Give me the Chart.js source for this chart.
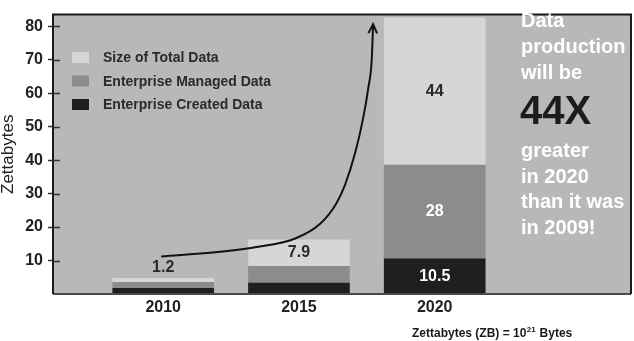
<!DOCTYPE html>
<html>
<head>
<meta charset="utf-8">
<script src="https://cdn.jsdelivr.net/npm/chart.js@4"></script>
<style>
  html, body { margin: 0; padding: 0; background: #fff; }
  canvas { display: block; }
</style>
</head>
<body>
<canvas id="zbChart" width="634" height="341"></canvas>
<script>
/* ===============================
   DATA
=============================== */
const years = [2010, 2015, 2020];
const createdData = [1.7, 3.3, 10.5];   // Enterprise Created Data
const managedData = [1.8, 5.0, 28];     // Enterprise Managed Data
const totalData = [1.2, 7.9, 44];       // Size of Total Data
const yTicks = [10, 20, 30, 40, 50, 60, 70, 80];

// growth arrow, in (year, ZB)
const arrowPath = [
    { x: 2009.93, y: 11.2 }, { x: 2012.1, y: 12.6 }, { x: 2013.5, y: 14.1 },
    { x: 2014.86, y: 16.6 }, { x: 2015.78, y: 21.0 }, { x: 2016.37, y: 27.0 },
    { x: 2016.7, y: 32.7 }, { x: 2017.07, y: 42.2 }, { x: 2017.37, y: 52.8 },
    { x: 2017.55, y: 61.4 }, { x: 2017.68, y: 70.0 }, { x: 2017.73, y: 80.6 }
];

const noteTop = ["Data", "production", "will be"];
const noteBig = "44X";
const noteBottom = ["greater", "in 2020", "than it was", "in 2009!"];

const FONT = "'Liberation Sans', Arial, Helvetica, sans-serif";
const COLORS = { bg: "#b7b8ba", light: "#d5d6d8", mid: "#8b8c8e", dark: "#1f1f1f", text: "#2a2a2a" };

const toPoints = arr => years.map((x, i) => ({ x, y: arr[i] }));

/* ===============================
   PLUGIN: frame, labels, legend, notes
=============================== */
const decorPlugin = {
    id: "decor",
    beforeDraw(chart) {
        const { ctx, chartArea: a } = chart;
        ctx.save();
        ctx.fillStyle = COLORS.bg;
        ctx.fillRect(a.left, a.top, a.right - a.left, a.bottom - a.top);
        ctx.restore();
    },
    afterDatasetsDraw(chart) {
        const { ctx, chartArea: a, scales } = chart;
        ctx.save();

        // frame
        ctx.lineWidth = 2;
        ctx.strokeStyle = "#4a4a4a";
        ctx.beginPath();
        ctx.moveTo(a.left, a.bottom);
        ctx.lineTo(a.right, a.bottom);
        ctx.stroke();
        ctx.strokeStyle = "#1a1a1a";
        ctx.beginPath();
        ctx.moveTo(a.left, a.bottom);
        ctx.lineTo(a.left, a.top);
        ctx.lineTo(a.right, a.top);
        ctx.lineTo(a.right, a.bottom);
        ctx.stroke();

        // inner half of the y tick marks
        ctx.lineWidth = 1.5;
        ctx.strokeStyle = "#333";
        yTicks.forEach(v => {
            const y = Math.round(scales.y.getPixelForValue(v)) + 0.5;
            ctx.beginPath();
            ctx.moveTo(a.left, y);
            ctx.lineTo(a.left + 7, y);
            ctx.stroke();
        });

        // segment values
        ctx.textAlign = "center";
        ctx.textBaseline = "middle";
        ctx.font = `bold 16px ${FONT}`;
        chart.data.datasets.forEach((ds, di) => {
            if (ds.type === "line") return;
            const meta = chart.getDatasetMeta(di);
            meta.data.forEach((el, i) => {
                const h = el.base - el.y;
                const txt = String(ds.data[i].y);
                ctx.fillStyle = ds.labelColor;
                if (h >= 24) {
                    ctx.fillText(txt, el.x, (el.y + el.base) / 2);
                } else if (ds.isTotal) {
                    ctx.fillStyle = COLORS.text;
                    ctx.fillText(txt, el.x, el.y - 11);
                }
            });
        });

        // arrow head
        const lineIdx = chart.data.datasets.findIndex(d => d.type === "line");
        const pts = chart.getDatasetMeta(lineIdx).data;
        const p1 = pts[pts.length - 1], p0 = pts[pts.length - 2];
        const ang = Math.atan2(p1.y - p0.y, p1.x - p0.x);
        ctx.strokeStyle = "#111";
        ctx.lineWidth = 2;
        ctx.beginPath();
        ctx.moveTo(p1.x - 10 * Math.cos(ang - 0.45), p1.y - 10 * Math.sin(ang - 0.45));
        ctx.lineTo(p1.x, p1.y);
        ctx.lineTo(p1.x - 10 * Math.cos(ang + 0.45), p1.y - 10 * Math.sin(ang + 0.45));
        ctx.stroke();

        // legend (top series first)
        const bars = chart.data.datasets.filter(d => d.type !== "line").slice().reverse();
        ctx.textAlign = "left";
        ctx.textBaseline = "alphabetic";
        ctx.font = `bold 14px ${FONT}`;
        bars.forEach((ds, i) => {
            const y = 52 + i * 23.5;
            ctx.fillStyle = ds.backgroundColor;
            ctx.fillRect(72, y, 17, 11);
            ctx.fillStyle = COLORS.text;
            ctx.fillText(ds.label, 103, y + 10);
        });

        // side note
        ctx.fillStyle = "#fff";
        ctx.font = `bold 20px ${FONT}`;
        noteTop.forEach((t, i) => ctx.fillText(t, 521, 27 + i * 26));
        ctx.fillStyle = "#1c1c1c";
        ctx.font = `bold 40px ${FONT}`;
        ctx.fillText(noteBig, 520, 124);
        ctx.fillStyle = "#fff";
        ctx.font = `bold 20px ${FONT}`;
        noteBottom.forEach((t, i) => ctx.fillText(t, 521, 157 + i * 25.5));

        // unit footnote
        ctx.fillStyle = "#1a1a1a";
        let x = 412;
        const base = 337;
        ctx.font = `bold 12px ${FONT}`;
        const part1 = "Zettabytes (ZB) = 10";
        ctx.fillText(part1, x, base);
        x += ctx.measureText(part1).width;
        ctx.font = `bold 8px ${FONT}`;
        ctx.fillText("21", x + 0.5, base - 5);
        x += ctx.measureText("21").width + 1;
        ctx.font = `bold 12px ${FONT}`;
        ctx.fillText(" Bytes", x, base);

        ctx.restore();
    }
};

/* ===============================
   CHART
=============================== */
new Chart(document.getElementById("zbChart").getContext("2d"), {
    type: "bar",
    data: {
        datasets: [
            {
                type: "line",
                label: "growth",
                data: arrowPath,
                borderColor: "#111",
                borderWidth: 2,
                pointRadius: 0,
                fill: false,
                cubicInterpolationMode: "monotone",
                order: -1
            },
            {
                label: "Enterprise Created Data",
                data: toPoints(createdData),
                backgroundColor: COLORS.dark,
                labelColor: "#fff",
                barThickness: 101
            },
            {
                label: "Enterprise Managed Data",
                data: toPoints(managedData),
                backgroundColor: COLORS.mid,
                labelColor: "#fff",
                barThickness: 101
            },
            {
                label: "Size of Total Data",
                data: toPoints(totalData),
                backgroundColor: COLORS.light,
                labelColor: COLORS.text,
                isTotal: true,
                barThickness: 101
            }
        ]
    },
    options: {
        responsive: false,
        animation: false,
        layout: { padding: { top: 3, right: 3, left: 0, bottom: 0 } },
        plugins: {
            legend: { display: false },
            tooltip: { enabled: false }
        },
        scales: {
            x: {
                type: "linear",
                stacked: true,
                offset: false,
                min: 2005.94,
                max: 2027.23,
                afterBuildTicks: s => { s.ticks = years.map(v => ({ value: v })); },
                afterFit: s => { s.height = 47; },
                grid: { display: false, drawTicks: false, offset: false },
                border: { display: false },
                ticks: {
                    padding: 4,
                    color: "#222",
                    font: { family: FONT, size: 16, weight: "bold" },
                    callback: v => String(v)
                }
            },
            y: {
                stacked: true,
                min: 0,
                max: 83.5,
                afterBuildTicks: s => { s.ticks = yTicks.map(v => ({ value: v })); },
                afterFit: s => { s.width = 53; },
                grid: {
                    display: true,
                    drawOnChartArea: false,
                    drawTicks: true,
                    tickLength: 5,
                    tickWidth: 1.5,
                    tickColor: "#333"
                },
                border: { display: false },
                ticks: {
                    padding: 5,
                    color: "#222",
                    font: { family: FONT, size: 16, weight: "bold" }
                },
                title: {
                    display: true,
                    text: "Zettabytes",
                    color: "#222",
                    padding: 0,
                    font: { family: FONT, size: 17, lineHeight: 1 }
                }
            }
        }
    },
    plugins: [decorPlugin]
});
</script>
</body>
</html>
